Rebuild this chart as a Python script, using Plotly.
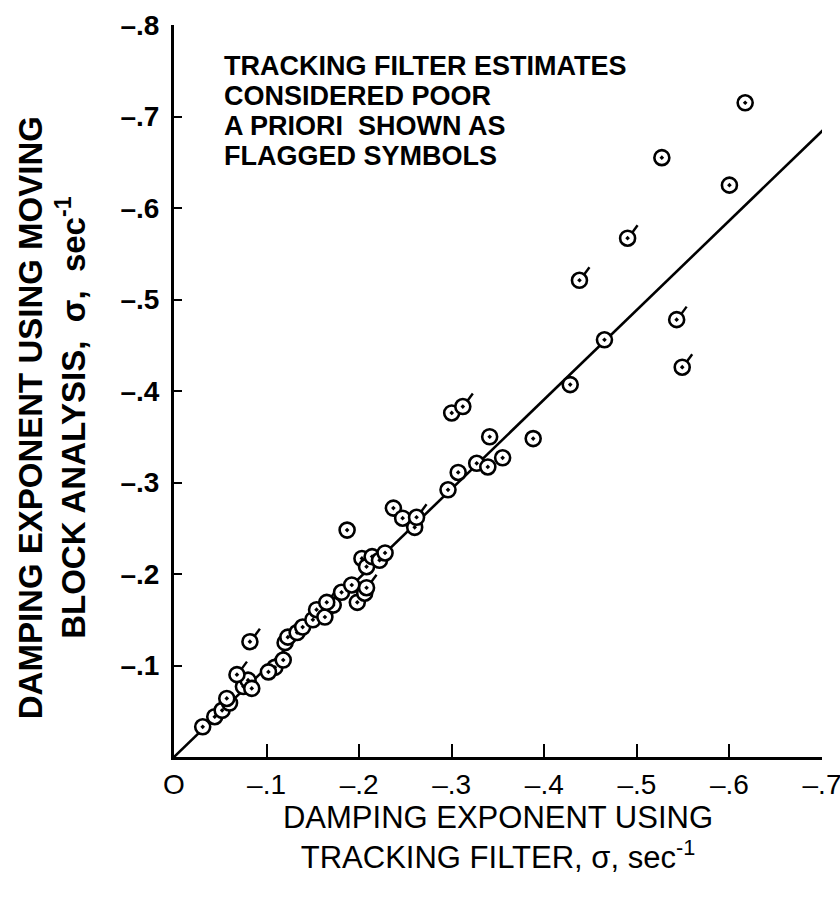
import plotly.graph_objects as go

# Damping exponent: tracking filter (x) vs moving block analysis (y), sec^-1
track_sigma = [-0.031, -0.044, -0.052, -0.060, -0.057, -0.075, -0.080, -0.084,
               -0.109, -0.118, -0.120, -0.123, -0.133, -0.139, -0.150, -0.154,
               -0.163, -0.172, -0.181, -0.192, -0.198, -0.206, -0.203, -0.208,
               -0.214, -0.222, -0.228, -0.187, -0.237, -0.247, -0.260, -0.296,
               -0.307, -0.327, -0.339, -0.355, -0.341, -0.388, -0.428, -0.465,
               -0.617, -0.527, -0.600]
block_sigma = [-0.033, -0.044, -0.051, -0.059, -0.064, -0.077, -0.084, -0.075,
               -0.098, -0.106, -0.125, -0.131, -0.136, -0.142, -0.150, -0.161,
               -0.153, -0.166, -0.180, -0.188, -0.169, -0.179, -0.217, -0.208,
               -0.219, -0.215, -0.223, -0.248, -0.272, -0.261, -0.251, -0.292,
               -0.311, -0.321, -0.317, -0.327, -0.350, -0.348, -0.407, -0.456,
               -0.715, -0.655, -0.625]

# Estimates considered poor a priori (flagged symbols)
flag_track = [-0.068, -0.082, -0.102, -0.165, -0.208, -0.262, -0.300, -0.312,
              -0.490, -0.438, -0.543, -0.549]
flag_block = [-0.090, -0.126, -0.093, -0.169, -0.185, -0.262, -0.376, -0.383,
              -0.567, -0.521, -0.478, -0.426]

# Fairing line through the data
fit_x = [0.0, -0.703]
fit_y = [0.0, -0.687]

x_ticks = [0, -0.1, -0.2, -0.3, -0.4, -0.5, -0.6, -0.7]
x_ticktext = ["O", "\u2013.1", "\u2013.2", "\u2013.3", "\u2013.4", "\u2013.5", "\u2013.6", "\u2013.7"]
y_ticks = [-0.1, -0.2, -0.3, -0.4, -0.5, -0.6, -0.7, -0.8]
y_ticktext = ["\u2013.1", "\u2013.2", "\u2013.3", "\u2013.4", "\u2013.5", "\u2013.6", "\u2013.7", "\u2013.8"]

note_lines = ["TRACKING FILTER ESTIMATES", "CONSIDERED POOR",
              "A PRIORI  SHOWN AS", "FLAGGED SYMBOLS"]

x_title = "DAMPING EXPONENT USING<br>TRACKING FILTER, \u03c3, sec<sup>-1</sup>"
y_title = "DAMPING EXPONENT USING MOVING<br>BLOCK ANALYSIS,  \u03c3,  sec<sup>-1</sup>"

FONT = "Liberation Sans, Arial, sans-serif"
W, H = 840, 900
M = dict(l=174, r=18, t=25, b=143)
X_RANGE = [0, -0.7]
Y_RANGE = [0, -0.8]

# data units per pixel, used to give the flag strokes a fixed on-screen size
ux = (X_RANGE[1] - X_RANGE[0]) / (W - M["l"] - M["r"])
uy = (Y_RANGE[1] - Y_RANGE[0]) / (H - M["t"] - M["b"])

flag_x, flag_y = [], []
for fx, fy in zip(flag_track, flag_block):
    flag_x += [fx + 4.5 * ux, fx + 10 * ux, None]
    flag_y += [fy + 5.5 * uy, fy + 13 * uy, None]

marker_style = dict(symbol="circle-dot", size=15, color="white",
                    line=dict(color="black", width=2.6))

fig = go.Figure()
fig.add_trace(go.Scatter(x=fit_x, y=fit_y, mode="lines",
                         line=dict(color="black", width=2.6),
                         hoverinfo="skip", showlegend=False))
fig.add_trace(go.Scatter(x=flag_x, y=flag_y, mode="lines",
                         line=dict(color="black", width=2.4),
                         hoverinfo="skip", showlegend=False))
fig.add_trace(go.Scatter(x=track_sigma, y=block_sigma, mode="markers",
                         marker=marker_style, showlegend=False))
fig.add_trace(go.Scatter(x=flag_track, y=flag_block, mode="markers",
                         marker=marker_style, showlegend=False))

# note text block
for i, line in enumerate(note_lines):
    fig.add_annotation(x=0.074, y=0.967 - i * 0.041, xref="paper", yref="paper",
                       xanchor="left", yanchor="top", showarrow=False,
                       text=line, font=dict(family=FONT, size=27, color="black",
                                            weight="bold"))

# vertical axis title
fig.add_annotation(x=-0.188, y=0.463, xref="paper", yref="paper",
                   xanchor="center", yanchor="middle", showarrow=False,
                   textangle=-90, text=y_title,
                   font=dict(family=FONT, size=33, color="black", weight="bold"))

fig.update_xaxes(range=X_RANGE, tickvals=x_ticks, ticktext=x_ticktext,
                 ticks="inside", ticklen=13, tickwidth=2.2, tickcolor="black",
                 showline=True, linewidth=3, linecolor="black",
                 showgrid=False, zeroline=False, automargin=False,
                 ticklabeloverflow="allow",
                 tickfont=dict(family=FONT, size=28, color="black"),
                 title=dict(text=x_title,
                            font=dict(family=FONT, size=31, color="black"),
                            standoff=6))
fig.update_yaxes(range=Y_RANGE, tickvals=y_ticks, ticktext=y_ticktext,
                 ticks="inside", ticklen=8, tickwidth=1.5, tickcolor="black",
                 showline=True, linewidth=3, linecolor="black",
                 showgrid=False, zeroline=False, automargin=False,
                 ticklabelstandoff=6,
                 tickfont=dict(family=FONT, size=28, color="black", weight="bold"))

fig.update_layout(width=W, height=H, margin=M,
                  paper_bgcolor="white", plot_bgcolor="white")

fig.write_html("out.html")
